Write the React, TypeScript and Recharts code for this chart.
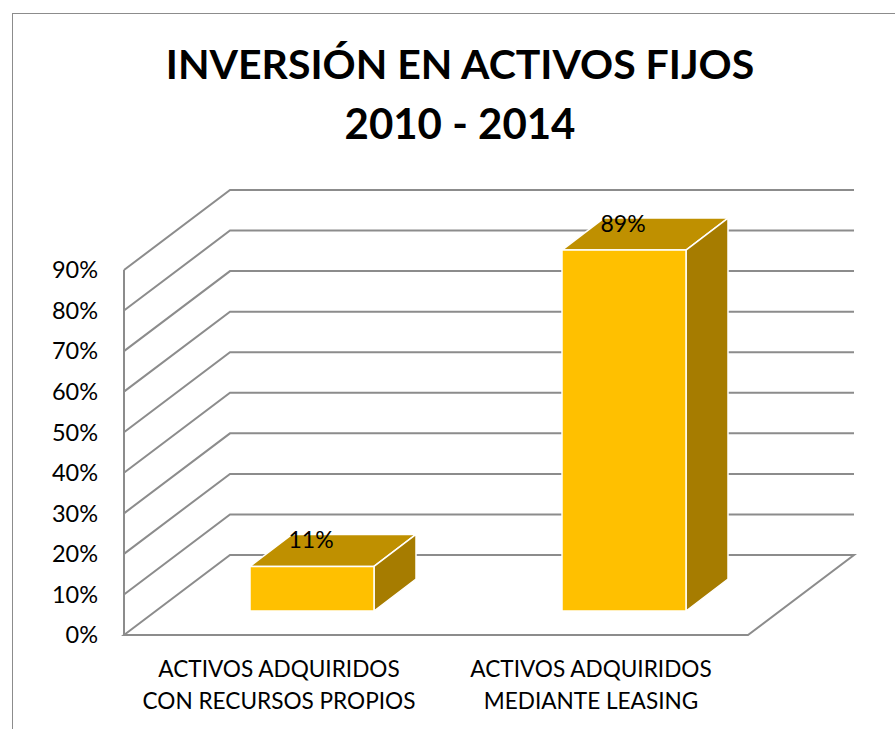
import { Bar, BarChart, CartesianGrid, LabelList, XAxis, YAxis } from "recharts";

const TITULO = ["INVERSIÓN EN ACTIVOS FIJOS", "2010 - 2014"];
const CATEGORIAS = ["ACTIVOS ADQUIRIDOS\nCON RECURSOS PROPIOS", "ACTIVOS ADQUIRIDOS\nMEDIANTE LEASING"];
const VALORES = [11, 89];
const TICKS = [0, 10, 20, 30, 40, 50, 60, 70, 80, 90];

const datos = CATEGORIAS.map((categoria, i) => ({ categoria, valor: VALORES[i] }));

const FUENTE = "Lato, 'Open Sans', sans-serif";
const GRIS = "#8c8c8c";

// profundidad del "piso" 3D y de la caja
const PISO_X = 106;
const PISO_Y = 80;
const BASE_X = 32;
const BASE_Y = 24;
const CAJA_X = 42;
const CAJA_Y = 32;

function LineaGrid(props: any) {
  const { x1, x2, y1 } = props;
  const esPiso = Math.abs(y1 - 635) < 1;
  const d = esPiso
    ? `M${x1},${y1} L${x1 + PISO_X},${y1 - PISO_Y} L${x2 + PISO_X},${y1 - PISO_Y} L${x2},${y1} Z`
    : `M${x1},${y1} L${x1 + PISO_X},${y1 - PISO_Y} L${x2 + PISO_X},${y1 - PISO_Y}`;
  return <path d={d} fill="none" stroke={GRIS} strokeWidth={2} />;
}

function Caja(props: any) {
  const x = props.x + BASE_X;
  const y = props.y - BASE_Y;
  const w = props.width;
  const h = props.height;
  return (
    <g stroke="#fff" strokeWidth={1.5} strokeLinejoin="round">
      <path d={`M${x},${y} L${x + CAJA_X},${y - CAJA_Y} L${x + w + CAJA_X},${y - CAJA_Y} L${x + w},${y} Z`} fill="#BF9000" />
      <path d={`M${x + w},${y} L${x + w + CAJA_X},${y - CAJA_Y} L${x + w + CAJA_X},${y + h - CAJA_Y} L${x + w},${y + h} Z`} fill="#A67C00" />
      <rect x={x} y={y} width={w} height={h} fill="#FFC000" />
    </g>
  );
}

function Etiqueta(props: any) {
  const { x, y, width, value } = props;
  return (
    <text x={x + BASE_X + width / 2 - 1} y={y - BASE_Y - 18} textAnchor="middle" fontSize={23} fontFamily={FUENTE} fill="#000">
      {value}%
    </text>
  );
}

function TickCategoria(props: any) {
  const { x, payload } = props;
  const lineas = String(payload.value).split("\n");
  return (
    <g>
      {lineas.map((l, i) => (
        <text key={i} x={x - 1} y={677 + i * 32} textAnchor="middle" fontSize={22.6} fontFamily={FUENTE} fill="#000">
          {l}
        </text>
      ))}
    </g>
  );
}

export default function App() {
  return (
    <div style={{ position: "absolute", left: 0, top: 0, width: 895, height: 729, background: "#fff", overflow: "hidden" }}>
      <div style={{ position: "absolute", left: 12, top: 13, width: 900, height: 800, borderLeft: `1.5px solid ${GRIS}`, borderTop: `1.5px solid ${GRIS}` }} />
      <BarChart
        width={895}
        height={729}
        data={datos}
        margin={{ top: 270, right: 147, bottom: 0, left: 0 }}
        barSize={124}
        style={{ position: "absolute", left: 0, top: 0 }}
      >
        <text x={460} y={79} textAnchor="middle" fontSize={41} fontWeight={700} fontFamily={FUENTE} fill="#000">
          {TITULO[0]}
        </text>
        <text x={460} y={139} textAnchor="middle" fontSize={42} fontWeight={700} fontFamily={FUENTE} fill="#000">
          {TITULO[1]}
        </text>
        <CartesianGrid vertical={false} horizontal={(p: any) => <LineaGrid key={p.index} {...p} />} />
        <XAxis
          dataKey="categoria"
          height={94}
          interval={0}
          tickLine={false}
          axisLine={{ stroke: GRIS, strokeWidth: 2 }}
          tick={<TickCategoria />}
        />
        <YAxis
          width={124}
          domain={[0, 90]}
          ticks={TICKS}
          tickLine={false}
          tickSize={0}
          tickMargin={26}
          interval={0}
          axisLine={{ stroke: GRIS, strokeWidth: 2 }}
          tickFormatter={(v: number) => `${v}%`}
          tick={{ fontSize: 23.5, fontFamily: FUENTE, fill: "#000" }}
        />
        <Bar dataKey="valor" shape={<Caja />} isAnimationActive={false}>
          <LabelList dataKey="valor" content={<Etiqueta />} />
        </Bar>
      </BarChart>
    </div>
  );
}
